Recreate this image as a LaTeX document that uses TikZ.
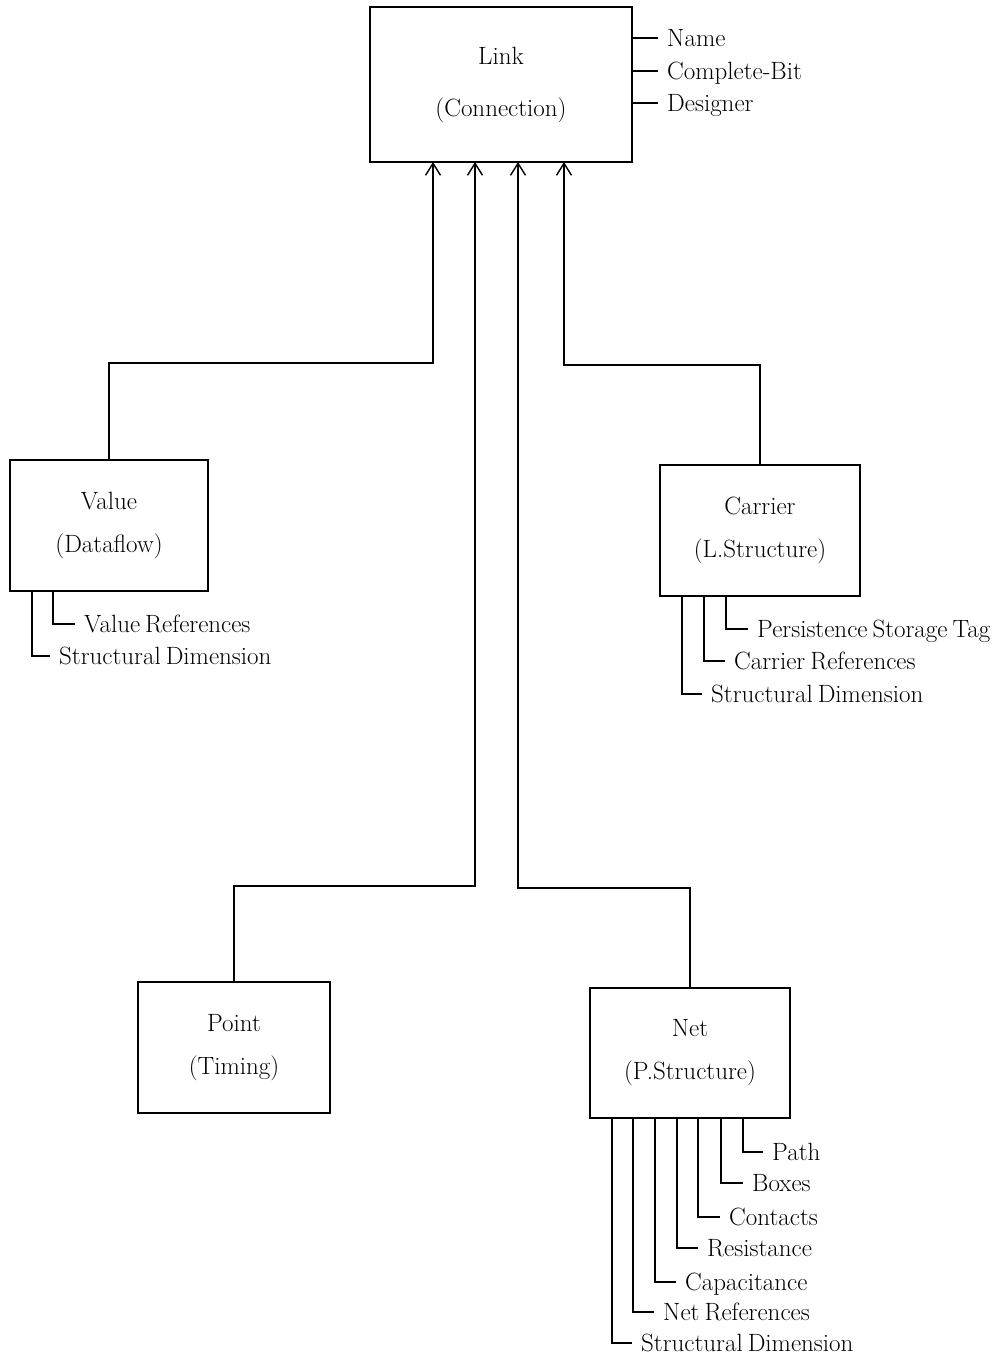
\documentclass[tikz,border=0pt]{standalone}
\usetikzlibrary{arrows.meta}
% label font with narrower word spaces
\newcommand\attrfont{\fontsize{25}{30}\selectfont\spaceskip=5pt plus 1pt\relax}
\begin{document}
\begin{tikzpicture}[x=1pt,y=-1pt,
  font=\fontsize{25}{30}\selectfont,
  ln/.style={line width=1.4pt},
  box/.style={draw, line width=1.4pt, inner sep=0pt, outer sep=0pt, align=center},
  attr/.style={anchor=west, inner xsep=9pt, inner ysep=0pt, text height=17pt, text depth=0pt,
    font=\attrfont},
  arr/.style={ln, -{Straight Barb[length=12pt,width=15pt,line width=1.4pt]}}]
\useasboundingbox[fill=white] (0,0) rectangle (1000,1361);

% main entity and its four sub-entities
\node[box, minimum width=262pt, minimum height=155pt] (link) at (501,84.5) {Link\\[22pt](Connection)};
\node[box, minimum width=198pt, minimum height=131pt] (value) at (109,525.5) {Value\\[13pt](Dataflow)};
\node[box, minimum width=200pt, minimum height=131pt] (carrier) at (760,530.5) {Carrier\\[13pt](L.Structure)};
\node[box, minimum width=192pt, minimum height=131pt] (point) at (234,1047.5) {Point\\[13pt](Timing)};
\node[box, minimum width=200pt, minimum height=130pt] (net) at (690,1053) {Net\\[13pt](P.Structure)};

% links up to the parent
\draw[arr] (value.north) -- ++(0,-97) -| ([xshift=63pt]link.south west);
\draw[arr] (point.north) -- ++(0,-96) -| ([xshift=105pt]link.south west);
\draw[arr] (net.north) -- ++(0,-100) -| ([xshift=148pt]link.south west);
\draw[arr] (carrier.north) -- ++(0,-100) -| ([xshift=194pt]link.south west);

% attributes of Link
\node[attr] (lname) at (658,38) {Name};
\node[attr] (lbit) at (658,71) {Complete-Bit};
\node[attr] (ldes) at (658,103) {Designer};
\draw[ln] ([yshift=-31pt]link.north east) -- (lname.west);
\draw[ln] ([yshift=-64pt]link.north east) -- (lbit.west);
\draw[ln] ([yshift=-96pt]link.north east) -- (ldes.west);

% attributes of Value
\node[attr] (vref) at (75,624) {Value References};
\node[attr] (vdim) at (50,656) {Structural Dimension};
\draw[ln] ([xshift=43pt]value.south west) |- (vref.west);
\draw[ln] ([xshift=22pt]value.south west) |- (vdim.west);

% attributes of Carrier
\node[attr] (cpst) at (748,629) {Persistence Storage Tag};
\node[attr] (cref) at (725,661) {Carrier References};
\node[attr] (cdim) at (702,694) {Structural Dimension};
\draw[ln] ([xshift=66pt]carrier.south west) |- (cpst.west);
\draw[ln] ([xshift=44pt]carrier.south west) |- (cref.west);
\draw[ln] ([xshift=22pt]carrier.south west) |- (cdim.west);

% attributes of Net
\node[attr] (npath) at (763,1152) {Path};
\node[attr] (nbox) at (743,1183) {Boxes};
\node[attr] (ncon) at (720,1217) {Contacts};
\node[attr] (nres) at (698,1248) {Resistance};
\node[attr] (ncap) at (676,1282) {Capacitance};
\node[attr] (nref) at (654,1312) {Net References};
\node[attr] (ndim) at (632,1343) {Structural Dimension};
\draw[ln] ([xshift=153pt]net.south west) |- (npath.west);
\draw[ln] ([xshift=131pt]net.south west) |- (nbox.west);
\draw[ln] ([xshift=108pt]net.south west) |- (ncon.west);
\draw[ln] ([xshift=87pt]net.south west) |- (nres.west);
\draw[ln] ([xshift=65pt]net.south west) |- (ncap.west);
\draw[ln] ([xshift=43pt]net.south west) |- (nref.west);
\draw[ln] ([xshift=22pt]net.south west) |- (ndim.west);
\end{tikzpicture}
\end{document}
